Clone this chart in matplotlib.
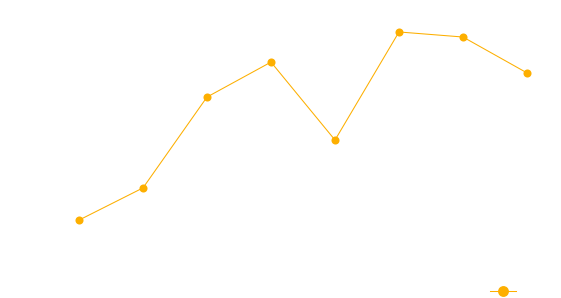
import matplotlib
matplotlib.use("Agg")
import matplotlib.pyplot as plt

# data
categories = ["1", "2", "3", "4", "5", "6", "7", "8"]
values = [13.0, 27.0, 66.5, 81.7, 47.8, 94.8, 92.6, 77.0]
series_name = ""

color = "#FDAF00"

fig = plt.figure(figsize=(5.61, 2.98), dpi=100)
ax = fig.add_axes([47 / 561, 48 / 298, 512 / 561, 230 / 298])

x = list(range(len(categories)))
line, = ax.plot(x, values, color=color, linewidth=0.75, marker="o",
                markersize=5.8, markeredgewidth=0, label=series_name)

ax.set_xlim(-0.5, len(categories) - 0.5)
ax.set_ylim(0, 100)
ax.axis("off")

# legend: just the series swatch, no text
fig.legend(handles=[line], labels=[""], loc="center",
           bbox_to_anchor=(503 / 561, 1 - 292 / 298), frameon=False,
           handlelength=1.9, handletextpad=0, borderpad=0, borderaxespad=0,
           markerscale=1.35)

fig.savefig("out.png", dpi=100)
